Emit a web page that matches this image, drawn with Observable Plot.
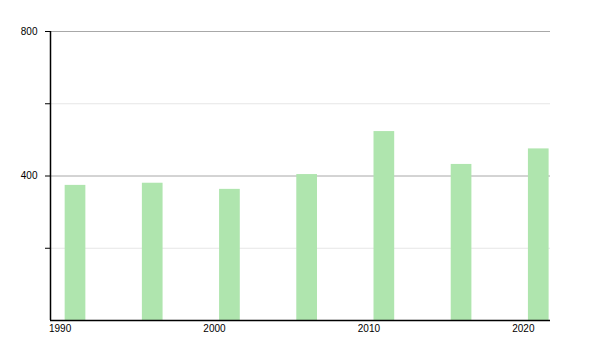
<!DOCTYPE html>
<html>
<head>
<meta charset="utf-8">
<script src="https://cdn.jsdelivr.net/npm/d3@7"></script>
<script src="https://cdn.jsdelivr.net/npm/@observablehq/plot@0.6"></script>
<style>
  html, body { margin: 0; padding: 0; background: #fff; }
</style>
</head>
<body>
<div id="chart"></div>
<script>
const years = [1991, 1996, 2001, 2006, 2011, 2016, 2021];
const values = [374, 380, 363, 404, 523, 432, 475];
const xTickLabels = [1990, 2000, 2010, 2020];
const yTicks = [200, 400, 600, 800];
const yTickLabels = [400, 800];
const majorGrid = [400, 800];
const minorGrid = [200, 600];

const data = years.map((year, i) => ({year, value: values[i]}));
const halfWidth = 0.67;
const xMin = 1989.38, xMax = 2021.76;

const chart = Plot.plot({
  width: 600,
  height: 350,
  marginLeft: 50,
  marginRight: 50,
  marginTop: 31,
  marginBottom: 30,
  style: {fontFamily: "Liberation Sans, Arial, sans-serif", fontSize: "10px", color: "#000", background: "#fff"},
  x: {domain: [xMin, xMax], label: null},
  y: {domain: [0, 800], label: null},
  marks: [
    Plot.ruleY(minorGrid, {stroke: "#e6e6e6", strokeWidth: 1}),
    Plot.ruleY(majorGrid, {stroke: "#a8a8a8", strokeWidth: 1}),
    Plot.rectY(data, {x1: d => d.year - halfWidth, x2: d => d.year + halfWidth, y: "value", fill: "#afe5ae"}),
    Plot.axisY({ticks: yTicks, tickSize: 5, tickPadding: 8, label: null, tickFormat: d => yTickLabels.includes(d) ? String(d) : "", stroke: "#000"}),
    Plot.axisX({ticks: xTickLabels, tickSize: 0, tickPadding: 4, label: null, tickFormat: d => String(d)}),
    Plot.ruleX([xMin], {stroke: "#000", strokeWidth: 1.5}),
    Plot.ruleY([0], {stroke: "#000", strokeWidth: 1.5})
  ]
});
document.getElementById("chart").appendChild(chart);
</script>
</body>
</html>
